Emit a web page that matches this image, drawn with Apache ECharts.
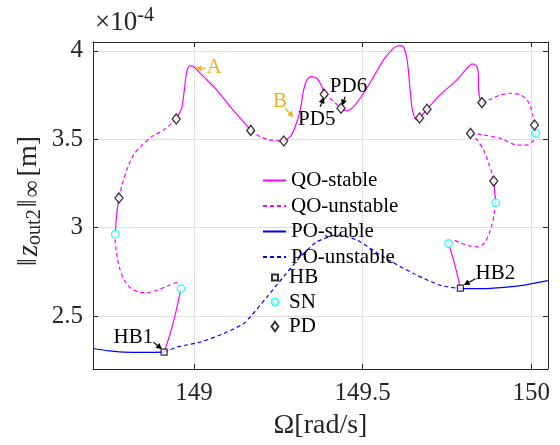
<!DOCTYPE html>
<html>
<head>
<meta charset="utf-8">
<script src="https://cdn.jsdelivr.net/npm/echarts@6/dist/echarts.min.js"></script>
<style>html,body{margin:0;padding:0;background:#fff}#c{width:560px;height:445px}</style>
</head>
<body>
<div id="c"></div>
<script>
// ---------- data ----------
const xTicks = [149, 149.5, 150];
const yTicks = [2.5, 3, 3.5, 4];
const xRange = [148.7, 150.05];
const yRange = [2.2, 4.05];

// QO branch, stable segments
const qoStableSegs = [
  [[148.911,2.295],[148.929,2.400],[148.947,2.532],[148.961,2.655]],
  [[148.766,2.963],[148.770,3.070],[148.777,3.168]],
  [[148.947,3.615],[148.963,3.675],[148.971,3.779],[148.976,3.860],[148.981,3.900],[148.988,3.915],[148.998,3.911],[149.028,3.854],[149.067,3.779],[149.107,3.684],[149.146,3.599],[149.168,3.550]],
  [[149.266,3.490],[149.285,3.514],[149.300,3.571],[149.315,3.666],[149.325,3.779],[149.335,3.836],[149.347,3.854],[149.364,3.845],[149.379,3.798],[149.386,3.755]],
  [[149.436,3.675],[149.454,3.660],[149.473,3.684],[149.503,3.760],[149.533,3.854],[149.562,3.949],[149.592,4.015],[149.607,4.030],[149.620,4.025],[149.632,3.949],[149.641,3.779],[149.646,3.684],[149.653,3.628],[149.661,3.609],[149.669,3.620]],
  [[149.669,3.620],[149.691,3.669],[149.711,3.713],[149.740,3.769],[149.780,3.836],[149.810,3.902],[149.825,3.926],[149.838,3.915],[149.843,3.874],[149.844,3.779],[149.849,3.722],[149.854,3.707]],
  [[149.889,3.263],[149.895,3.140]],
  [[149.755,2.910],[149.770,2.815],[149.785,2.702],[149.790,2.658]]
];
// QO branch, unstable segments
const qoUnstableSegs = [
  [[148.961,2.655],[148.950,2.689],[148.919,2.668],[148.889,2.645],[148.860,2.632],[148.835,2.636],[148.810,2.660],[148.790,2.711],[148.778,2.777],[148.770,2.853],[148.766,2.929],[148.766,2.963]],
  [[148.777,3.168],[148.785,3.231],[148.800,3.325],[148.820,3.410],[148.845,3.467],[148.874,3.514],[148.909,3.552],[148.934,3.590],[148.947,3.615]],
  [[149.168,3.550],[149.196,3.514],[149.226,3.495],[149.266,3.490]],
  [[149.386,3.755],[149.409,3.722],[149.436,3.675]],
  [[149.854,3.707],[149.879,3.726],[149.909,3.751],[149.939,3.760],[149.968,3.751],[149.988,3.722],[149.998,3.684],[150.006,3.628],[150.010,3.580],[150.014,3.533]],
  [[150.014,3.533],[150.008,3.495],[149.988,3.467],[149.958,3.467],[149.909,3.505],[149.859,3.524],[149.820,3.533]],
  [[149.820,3.533],[149.840,3.495],[149.859,3.439],[149.874,3.363],[149.884,3.307],[149.889,3.263]],
  [[149.895,3.140],[149.889,3.061],[149.879,2.985],[149.864,2.919],[149.844,2.891],[149.820,2.895],[149.790,2.913],[149.770,2.929],[149.755,2.910]]
];
// PO branch
const poStableSegs = [
  [[148.700,2.316],[148.750,2.302],[148.790,2.296],[148.850,2.294],[148.911,2.295]],
  [[149.790,2.655],[149.850,2.655],[149.920,2.662],[149.980,2.675],[150.050,2.700]]
];
const poUnstableSegs = [
  [[148.911,2.295],[148.949,2.324],[149.018,2.352],[149.087,2.400],[149.146,2.456],[149.166,2.494],[149.216,2.607],[149.265,2.721],[149.315,2.834],[149.364,2.919],[149.424,2.957],[149.483,2.929],[149.562,2.834],[149.651,2.740],[149.731,2.673],[149.790,2.655]]
];
// bifurcation points
const hbPoints = [[148.911,2.295],[149.790,2.657]];
const snPoints = [[148.961,2.655],[148.766,2.963],[150.014,3.533],[149.895,3.140],[149.755,2.910]];
const pdPoints = [[148.777,3.168],[148.947,3.615],[149.168,3.550],[149.266,3.490],[149.386,3.755],[149.436,3.675],[149.669,3.620],[149.691,3.669],[149.854,3.707],[150.010,3.580],[149.820,3.533],[149.889,3.263]];

// annotations: label, label position, arrow tail, arrow head (data coords)
const annotations = [
  {text:'A',   color:'#EDB120', at:[149.059,3.904], from:[149.035,3.902], to:[149.004,3.902]},
  {text:'B',   color:'#EDB120', at:[149.255,3.713], from:[149.270,3.675], to:[149.295,3.624]},
  {text:'PD5', color:'#000000', at:[149.364,3.609], from:[149.374,3.684], to:[149.385,3.737]},
  {text:'PD6', color:'#000000', at:[149.458,3.798], from:[149.448,3.741], to:[149.439,3.690]},
  {text:'HB1', color:'#000000', at:[148.820,2.380], from:[148.879,2.352], to:[148.905,2.312]},
  {text:'HB2', color:'#000000', at:[149.894,2.740], from:[149.835,2.711], to:[149.800,2.675]}
];

// ---------- build ----------
function joinSegs(segs){
  const out = [];
  segs.forEach((s,i)=>{ if(i>0) out.push(['-','-']); s.forEach(p=>out.push(p)); });
  return out;
}
const FONT = '"Liberation Serif", "Times New Roman", serif';
const AX = '#262626';
const GRID = {left:93, right:12, top:42, bottom:76};

const chart = echarts.init(document.getElementById('c'), null, {renderer:'canvas', width:560, height:445});

const commonX = {
  type:'value', min:xRange[0], max:xRange[1],
  axisLine:{show:true, onZero:false, lineStyle:{color:AX, width:1}},
  axisTick:{show:true, inside:true, length:5, customValues:xTicks, lineStyle:{color:AX}},
  splitLine:{show:false}
};
const commonY = {
  type:'value', min:yRange[0], max:yRange[1],
  axisLine:{show:true, onZero:false, lineStyle:{color:AX, width:1}},
  axisTick:{show:true, inside:true, length:5, customValues:yTicks, lineStyle:{color:AX}},
  splitLine:{show:false}
};

const lineSeries = (name, segs, color, dashed) => ({
  name, type:'line', xAxisIndex:0, yAxisIndex:0,
  data: joinSegs(segs), symbol:'none', showSymbol:false, smooth:0.25,
  connectNulls:false, animation:false, z:2,
  lineStyle:{color, width:1.2, type: dashed ? [4,3] : 'solid'},
  itemStyle:{color, opacity:0}
});

const legendText = {fontFamily:FONT, fontSize:21, color:'#000', lineHeight:20};
// marker legend rows: icon centred at x=274, text starting near x=288
const markerLegend = (name, icon, w, h, top) => {
  const left = 274 - w / 2;
  const pad = Math.max(0, 288 - (left + w + 5));
  return {
    orient:'vertical', left, top, padding:0, itemWidth:w, itemHeight:h,
    selectedMode:false, textStyle:Object.assign({}, legendText, {padding:[0,0,0,pad]}),
    data:[{name, icon}]
  };
};

chart.setOption({
  animation:false,
  backgroundColor:'#fff',
  grid:GRID,
  xAxis:[
    Object.assign({}, commonX, {
      position:'bottom',
      axisLabel:{show:true, customValues:xTicks, margin:12, color:AX, fontFamily:FONT, fontSize:25,
        formatter:v=>String(v)},
      splitLine:{show:true, lineStyle:{color:'#dedede', width:1}},
      name:'Ω[rad/s]', nameLocation:'middle', nameGap:43,
      nameTextStyle:{color:AX, fontFamily:FONT, fontSize:28}
    }),
    Object.assign({}, commonX, {position:'top', axisLabel:{show:false}})
  ],
  yAxis:[
    Object.assign({}, commonY, {
      position:'left',
      axisLabel:{show:true, customValues:yTicks, margin:10, color:AX, fontFamily:FONT, fontSize:25,
        formatter:v=>String(v)},
      splitLine:{show:true, lineStyle:{color:'#dedede', width:1}}
    }),
    Object.assign({}, commonY, {position:'right', axisLabel:{show:false}})
  ],
  legend:[
    {
      orient:'vertical', left:262, top:170, padding:0, itemWidth:23, itemHeight:14, itemGap:4.5,
      selectedMode:false, itemStyle:{opacity:0}, textStyle:legendText,
      data:['QO-stable','QO-unstable','PO-stable','PO-unstable']
    },
    markerLegend('HB', 'path://M0,0h10v10h-10z', 6, 6, 267),
    markerLegend('SN', 'circle', 7, 7, 291.5),
    markerLegend('PD', 'path://M4,0L8,5.5L4,11L0,5.5z', 7, 9.5, 316)
  ],
  series:[
    lineSeries('QO-stable', qoStableSegs, '#FF00FF', false),
    lineSeries('QO-unstable', qoUnstableSegs, '#FF00FF', true),
    lineSeries('PO-stable', poStableSegs, '#0000FF', false),
    lineSeries('PO-unstable', poUnstableSegs, '#0000FF', true),
    {name:'HB', type:'scatter', data:hbPoints, symbol:'rect', symbolSize:6, z:5,
      itemStyle:{color:'#fff', borderColor:'#000', borderWidth:1.2}},
    {name:'SN', type:'scatter', data:snPoints, symbol:'circle', symbolSize:7.5, z:5,
      itemStyle:{color:'#fff', borderColor:'#00FFFF', borderWidth:1.4}},
    {name:'PD', type:'scatter', data:pdPoints, symbol:'diamond', symbolSize:[8,10], z:5,
      itemStyle:{color:'#fff', borderColor:'#000', borderWidth:1.3}}
  ]
});

// annotations placed through the axes' own scales
function px(p){ return chart.convertToPixel({xAxisIndex:0, yAxisIndex:0}, p); }
const g = [];
annotations.forEach(a=>{
  const t = px(a.at), f = px(a.from), h = px(a.to);
  g.push({type:'text', z:20, style:{text:a.text, x:t[0], y:t[1], align:'center', verticalAlign:'middle',
    font:'21px ' + FONT, fill:a.color}});
  const dx = h[0]-f[0], dy = h[1]-f[1], L = Math.hypot(dx,dy), ux = dx/L, uy = dy/L;
  const hl = 6, hw = 3;
  const bx = h[0]-ux*hl, by = h[1]-uy*hl;
  g.push({type:'line', z:20, shape:{x1:f[0], y1:f[1], x2:bx, y2:by}, style:{stroke:a.color, lineWidth:1.2}});
  g.push({type:'polygon', z:20, shape:{points:[[h[0],h[1]],[bx-uy*hw, by+ux*hw],[bx+uy*hw, by-ux*hw]]},
    style:{fill:a.color}});
});
// ×10^-4 exponent label
g.push({type:'text', x:95, y:6, z:20, style:{
  text:'{a|×10}{b|-4}', fill:AX,
  rich:{a:{font:'27px ' + FONT, fontSize:27, fontFamily:FONT, fill:AX, verticalAlign:'bottom', lineHeight:30},
        b:{font:'20px ' + FONT, fontSize:20, fontFamily:FONT, fill:AX, verticalAlign:'top', lineHeight:20}}}});
// y-axis title (rotated)
g.push({type:'text', x:30, y:201, rotation:Math.PI/2, z:20, style:{
  text:'{b|‖}{i|z}{s|out2}{b|‖}{s2|∞}{b|[m]}', fill:AX, align:'center', verticalAlign:'middle',
  rich:{
    b:{font:'28px ' + FONT, fontSize:28, fontFamily:FONT, fill:AX, verticalAlign:'top', lineHeight:30, padding:[0,2,0,2]},
    i:{font:'italic 29px ' + FONT, fontSize:29, fontStyle:'italic', fontFamily:FONT, fill:AX, verticalAlign:'top', lineHeight:30},
    s:{font:'20px ' + FONT, fontSize:20, fontFamily:FONT, fill:AX, verticalAlign:'bottom', lineHeight:20, padding:[14,0,0,0]},
    s2:{font:'24px ' + FONT, fontSize:24, fontFamily:FONT, fill:AX, verticalAlign:'bottom', lineHeight:22, padding:[12,2,0,0]}
  }}});
chart.setOption({graphic:g});
</script>
</body>
</html>
